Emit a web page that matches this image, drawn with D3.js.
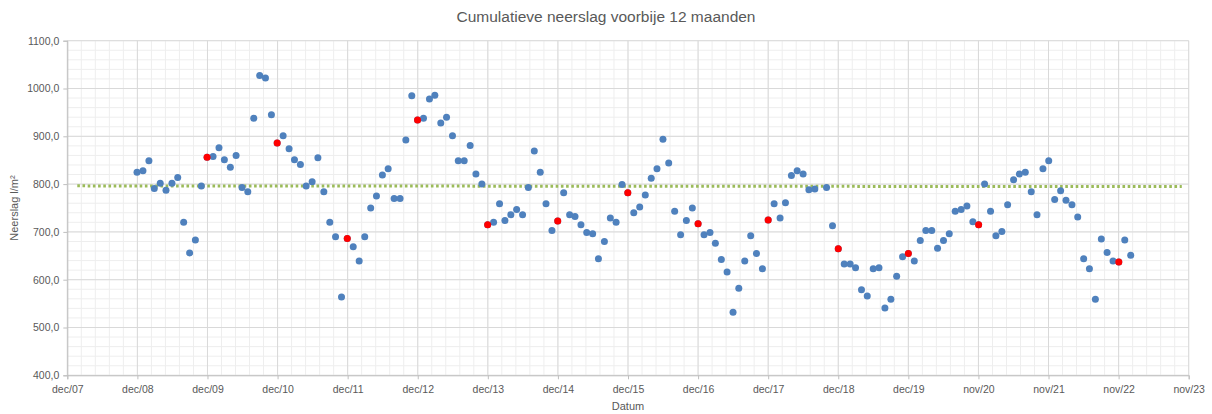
<!DOCTYPE html>
<html><head><meta charset="utf-8">
<script src="https://cdn.jsdelivr.net/npm/d3@7"></script>
<style>body{margin:0;background:#fff} svg{display:block} text{font-family:"Liberation Sans",Arial,sans-serif}</style>
</head><body><svg id="c" width="1212" height="414"></svg>
<script>
const chartTitle = "Cumulatieve neerslag voorbije 12 maanden";
const yTitle = "Neerslag l/m²";
const xTitle = "Datum";
const firstMonth = "2008-12-01";
const values = [
  825,
  828, 849, 791, 802, 787, 802, 814, 720, 656, 683, 796, 856,
  858, 876, 851, 835, 860, 793, 784, 938, 1027, 1022, 945, 886,
  901, 874, 851, 841, 796, 805, 855, 784, 720, 690, 564, 686,
  669, 639, 690, 750, 775, 819, 832, 770, 770, 892, 985, 934,
  938, 978, 986, 928, 940, 901, 849, 849, 881, 821, 800, 715,
  720, 759, 724, 736, 747, 736, 793, 869, 825, 759, 703, 723,
  782, 736, 732, 715, 699, 696, 644, 680, 729, 720, 799, 782,
  740, 752, 777, 812, 832, 894, 844, 743, 694, 724, 750, 717,
  694, 699, 676, 642, 616, 532, 582, 639, 692, 655, 623, 725,
  759, 729, 761, 818, 828, 821, 788, 790, null, 793, 713, 665,
  633, 633, 625, 579, 566, 623, 625, 541, 559, 607, 648, 655,
  639, 682, 703, 703, 666, 682, 696, 743, 747, 754, 721, 715,
  800, 743, 692, 701, 757, 809, 821, 825, 784, 736, 832, 849,
  768, 786, 766, 757, 731, 644, 623, 559, 685, 657, 639, 637,
  683, 651
];
const redMonths = ["2009-12","2010-12","2011-12","2012-12","2013-12","2014-12","2015-12","2016-12","2017-12","2018-12","2019-12","2020-12","2022-12"];
const avgLineDates = ["2008-01-25", "2023-10-25"];
const avgLineValues = [796.3, 794.8];
const axisStart = "2007-12-04";
const xTickLabels = ["dec/07","dec/08","dec/09","dec/10","dec/11","dec/12","dec/13","dec/14","dec/15","dec/16","dec/17","dec/18","dec/19","nov/20","nov/21","nov/22","nov/23"];
const yTicks = [400, 500, 600, 700, 800, 900, 1000, 1100];

const W = 1212, H = 414;
const m = {left: 67.3, right: 23.3, top: 40.7, bottom: 38.7};
const parse = d3.timeParse("%Y-%m-%d");
const start = parse(axisStart);
const tickDates = xTickLabels.map((_, i) => d3.timeDay.offset(start, i * 365));
const end = tickDates[tickDates.length - 1];

const svg = d3.select("#c");
const x = d3.scaleTime().domain([start, end]).range([m.left, W - m.right]);
const y = d3.scaleLinear().domain([400, 1100]).range([H - m.bottom, m.top]);

const f = parse(firstMonth);
const data = values.map((v, i) => ({date: d3.timeMonth.offset(f, i), value: v}));
const fmtMonth = d3.timeFormat("%Y-%m");
const red = data.filter(d => redMonths.includes(fmtMonth(d.date)) && d.value != null);

// minor grid
const g = svg.append("g");
const minorX = d3.range(0, 16 * 5 + 1).map(k => d3.timeDay.offset(start, k * 73));
const minorY = d3.range(400, 1101, 20);
g.selectAll(".mx").data(minorX).join("line")
  .attr("x1", d => x(d)).attr("x2", d => x(d)).attr("y1", y(400)).attr("y2", y(1100))
  .attr("stroke", "#eeeeee").attr("stroke-width", 1);
g.selectAll(".my").data(minorY).join("line")
  .attr("x1", m.left).attr("x2", W - m.right).attr("y1", d => y(d)).attr("y2", d => y(d))
  .attr("stroke", "#eeeeee").attr("stroke-width", 1);
// major grid
g.selectAll(".Mx").data(tickDates).join("line")
  .attr("x1", d => x(d)).attr("x2", d => x(d)).attr("y1", y(400)).attr("y2", y(1100))
  .attr("stroke", "#d9d9d9").attr("stroke-width", 1);
g.selectAll(".My").data(yTicks).join("line")
  .attr("x1", m.left).attr("x2", W - m.right).attr("y1", d => y(d)).attr("y2", d => y(d))
  .attr("stroke", "#d9d9d9").attr("stroke-width", 1);

// axes
const xAxis = d3.axisBottom(x).tickValues(tickDates).tickSize(4).tickPadding(6)
  .tickFormat((d, i) => xTickLabels[i]);
const xa = svg.append("g").attr("transform", `translate(0,${y(400)})`).call(xAxis);
xa.select(".domain").attr("stroke", "#bfbfbf");
xa.selectAll(".tick line").attr("stroke", "#bfbfbf");
xa.selectAll("text").attr("fill", "#595959").style("font-size", "10.5px").style("font-family", '"Liberation Sans",Arial,sans-serif');

const yAxis = d3.axisLeft(y).tickValues(yTicks).tickSize(4).tickPadding(4)
  .tickFormat(d => d3.format(".1f")(d).replace(".", ","));
const ya = svg.append("g").attr("transform", `translate(${m.left},0)`).call(yAxis);
ya.select(".domain").attr("stroke", "#bfbfbf");
ya.selectAll(".tick line").attr("stroke", "#bfbfbf");
ya.selectAll("text").attr("fill", "#595959").style("font-size", "10.5px").style("font-family", '"Liberation Sans",Arial,sans-serif');

// average line
const avg = avgLineDates.map((d, i) => ({date: parse(d), value: avgLineValues[i]}));
svg.append("path").datum(avg)
  .attr("d", d3.line().x(d => x(d.date)).y(d => y(d.value)))
  .attr("fill", "none").attr("stroke", "#9bbb59").attr("stroke-width", 3)
  .attr("stroke-dasharray", "2.6,2.6");

// points
svg.append("g").selectAll("circle").data(data.filter(d => d.value != null)).join("circle")
  .attr("cx", d => x(d.date)).attr("cy", d => y(d.value)).attr("r", 3.5)
  .attr("fill", "#4f81bd");
svg.append("g").selectAll("circle").data(red).join("circle")
  .attr("cx", d => x(d.date)).attr("cy", d => y(d.value)).attr("r", 3.5)
  .attr("fill", "#ff0000");

// titles
svg.append("text").attr("x", W / 2).attr("y", 22).attr("text-anchor", "middle")
  .attr("fill", "#595959").style("font-size", "15.5px").text(chartTitle);
svg.append("text").attr("x", (m.left + W - m.right) / 2).attr("y", 410).attr("text-anchor", "middle")
  .attr("fill", "#595959").style("font-size", "11px").text(xTitle);
svg.append("text").attr("transform", `translate(18,${(m.top + H - m.bottom) / 2}) rotate(-90)`)
  .attr("text-anchor", "middle").attr("fill", "#595959").style("font-size", "11px").text(yTitle);
</script></body></html>
